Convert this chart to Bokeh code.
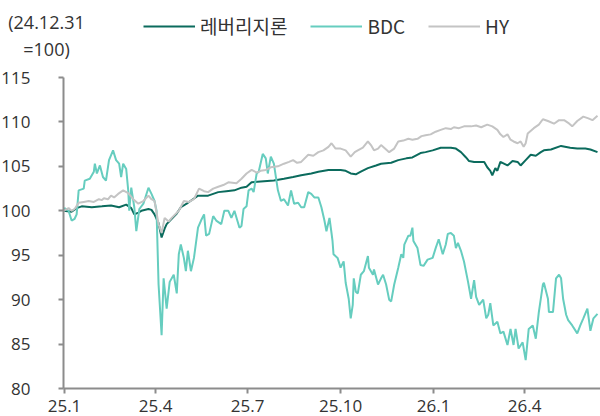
import pandas as pd
from bokeh.plotting import figure
from bokeh.models import FixedTicker, Legend, LegendItem, Label, Range1d
from bokeh.embed import file_html
from bokeh.resources import INLINE

base_date = "2024-12-31"

# days since 2024-12-31 and index values (24.12.31 = 100)
loan_days = [0, 8, 13, 18, 28, 38, 47, 55, 62, 67, 70, 74, 77, 84, 87, 90, 94, 97, 100, 102,
             107, 112, 116, 123, 128, 133, 143, 153, 161, 169, 176, 181, 186, 195, 208, 218, 227, 235, 245, 252,
             262, 269, 274, 279, 284, 289, 294, 301, 309, 314, 324, 331, 339, 345, 353, 358, 365, 373, 383, 388,
             393, 398, 401, 406, 416, 419, 422, 424, 427, 429, 432, 439, 444, 449, 452, 457, 462, 467, 472, 475,
             482, 492, 501, 508, 516, 521, 528]
loan_vals = [100.0, 99.9, 100.3, 100.5, 100.4, 100.5, 100.6, 100.4, 100.7, 100.3, 99.6, 99.8, 100.0, 100.2, 100.1, 99.6, 98.6, 97.0, 98.0, 98.5,
             99.1, 99.7, 100.4, 100.9, 101.3, 101.7, 101.7, 102.1, 102.2, 102.3, 102.6, 102.7, 103.2, 103.3, 103.4, 103.6, 103.8, 104.0, 104.2, 104.4,
             104.6, 104.6, 104.6, 104.5, 104.2, 104.1, 104.4, 104.8, 105.1, 105.3, 105.4, 105.7, 105.9, 106.0, 106.5, 106.6, 106.8, 107.1, 107.1, 107.0,
             106.6, 106.0, 105.6, 105.5, 105.5, 104.9, 104.5, 104.0, 104.8, 104.5, 105.5, 105.1, 105.6, 105.5, 105.1, 105.7, 106.3, 106.2, 106.6, 106.8,
             106.9, 107.3, 107.1, 107.0, 107.0, 106.9, 106.6]

bdc_days = [0, 1, 5, 8, 11, 13, 15, 20, 21, 26, 30, 31, 33, 36, 39, 42, 45, 49, 52, 55,
            57, 59, 62, 64, 65, 67, 70, 72, 75, 79, 84, 87, 90, 92, 94, 97, 99, 102, 105, 109,
            112, 114, 116, 119, 121, 123, 126, 129, 133, 136, 139, 141, 144, 148, 151, 156, 159, 163, 166, 169,
            174, 176, 178, 181, 183, 186, 188, 191, 193, 197, 200, 202, 205, 208, 212, 215, 218, 222, 225, 228,
            232, 235, 238, 242, 245, 248, 252, 255, 258, 260, 263, 265, 266, 267, 271, 274, 277, 279, 282, 284,
            286, 287, 289, 291, 294, 297, 301, 302, 306, 307, 311, 314, 316, 319, 322, 324, 327, 331, 334, 336,
            337, 341, 343, 345, 346, 350, 353, 356, 360, 365, 368, 371, 375, 378, 380, 383, 386, 388, 390, 393,
            396, 400, 403, 406, 408, 411, 415, 418, 420, 422, 425, 429, 432, 435, 439, 442, 445, 447, 450, 454,
            457, 460, 464, 467, 470, 474, 475, 479, 480, 484, 487, 490, 492, 494, 497, 499, 503, 508, 511, 514,
            518, 521, 524, 528]
bdc_vals = [100.0, 100.3, 100.0, 98.9, 99.1, 99.6, 102.3, 102.5, 103.4, 103.6, 104.4, 105.3, 104.2, 105.1, 103.8, 103.4, 105.7, 106.8, 105.7, 105.3,
            103.8, 105.3, 104.7, 102.3, 100.0, 102.6, 100.4, 97.7, 100.2, 100.8, 102.6, 101.9, 101.1, 100.0, 91.7, 86.0, 92.4, 89.0, 92.0, 92.8,
            90.7, 95.1, 96.2, 94.7, 93.2, 95.5, 93.2, 94.7, 98.1, 98.9, 99.6, 97.2, 97.4, 99.4, 98.9, 98.5, 100.0, 100.0, 99.2, 100.0,
            98.1, 98.3, 100.2, 100.5, 102.3, 102.5, 102.1, 104.2, 104.4, 106.4, 105.9, 104.2, 106.1, 105.3, 102.3, 101.1, 101.3, 100.6, 102.3, 100.8,
            100.9, 100.4, 100.4, 102.1, 101.9, 101.5, 101.5, 100.4, 98.9, 97.7, 99.2, 97.5, 96.6, 95.1, 94.7, 93.6, 94.3, 91.9, 90.1, 87.9,
            89.4, 92.4, 90.9, 90.7, 92.8, 93.2, 94.9, 93.6, 92.8, 93.4, 91.7, 92.4, 92.8, 91.7, 90.0, 89.8, 91.7, 93.6, 95.1, 94.7,
            96.2, 97.2, 97.2, 98.1, 96.6, 95.8, 93.9, 93.8, 94.5, 94.7, 95.8, 96.8, 95.1, 96.2, 97.4, 97.5, 97.2, 95.8, 96.4, 95.5,
            94.3, 92.0, 90.1, 92.2, 90.3, 89.4, 90.0, 87.9, 88.3, 89.6, 87.1, 87.5, 86.2, 86.4, 84.9, 86.7, 84.9, 86.7, 84.5, 85.2,
            83.2, 86.7, 87.1, 85.6, 88.6, 91.7, 91.9, 90.1, 88.6, 88.6, 92.4, 92.8, 92.4, 90.1, 88.3, 87.7, 87.1, 86.2, 87.1, 87.9,
            89.0, 86.5, 87.9, 88.4]

hy_days = [0, 5, 8, 11, 15, 20, 25, 30, 35, 38, 40, 44, 47, 50, 54, 59, 64, 69, 74, 79,
           84, 87, 90, 94, 97, 100, 104, 107, 114, 119, 124, 129, 134, 139, 143, 148, 153, 158, 163, 171,
           176, 181, 186, 191, 195, 200, 205, 212, 218, 223, 227, 231, 235, 242, 247, 252, 257, 262, 265, 269,
           274, 279, 284, 288, 291, 296, 301, 304, 307, 311, 314, 319, 322, 327, 331, 336, 341, 345, 350, 354,
           358, 363, 368, 373, 378, 383, 386, 391, 396, 403, 408, 413, 419, 424, 429, 432, 435, 439, 442, 445,
           449, 452, 455, 457, 459, 465, 470, 474, 479, 485, 490, 495, 499, 503, 508, 514, 519, 523, 528]
hy_vals = [100.0, 100.3, 100.0, 100.2, 100.9, 101.0, 101.1, 101.0, 101.3, 101.2, 101.4, 101.3, 101.7, 101.5, 101.9, 102.3, 102.0, 101.3, 100.8, 101.1,
           101.7, 101.3, 101.1, 98.5, 97.5, 99.2, 98.8, 99.2, 100.0, 101.1, 101.0, 101.3, 102.5, 102.2, 102.1, 102.5, 102.7, 102.9, 103.2, 103.1,
           103.6, 104.2, 104.6, 104.3, 104.5, 104.6, 104.9, 105.0, 105.3, 105.5, 105.7, 105.4, 105.5, 106.3, 106.2, 106.6, 106.8, 107.2, 107.6, 107.0,
           107.0, 106.8, 106.1, 106.6, 106.8, 107.1, 107.8, 107.4, 106.8, 107.0, 107.4, 106.9, 106.6, 107.0, 107.8, 107.9, 108.1, 108.0, 108.1, 108.4,
           108.5, 108.6, 108.9, 109.1, 109.3, 109.2, 109.4, 109.3, 109.5, 109.5, 109.6, 109.4, 109.7, 109.5, 109.1, 108.6, 108.3, 108.6, 108.0, 107.8,
           107.6, 107.8, 107.2, 107.6, 108.7, 109.3, 109.7, 110.3, 110.1, 109.8, 110.2, 110.2, 109.9, 109.5, 110.1, 110.6, 110.4, 110.2, 110.7]

series_names = ["레버리지론", "BDC", "HY"]
series_colors = ["#0B6B5D", "#66CDBF", "#C4C4C4"]

tick_dates = ["2025-01-01", "2025-04-01", "2025-07-01", "2025-10-01", "2026-01-01", "2026-04-01"]
tick_labels = ["25.1", "25.4", "25.7", "25.10", "26.1", "26.4"]
y_ticks = [80, 85, 90, 95, 100, 105, 110, 115]
y_title = "(24.12.31\n=100)"

base = pd.Timestamp(base_date)
end_day = max(hy_days) + 1


def to_dates(days):
    return [base + pd.Timedelta(days=d) for d in days]


# layout: the frame fills the canvas; axes are pinned at the data origin
W, H = 600, 416
ax_left_px, ax_right_px, ax_bottom_px, ax_top_px = 63, 598, 388, 77
px_per_day = (ax_right_px - ax_left_px) / end_day
px_per_unit = (ax_bottom_px - ax_top_px) / (max(y_ticks) - min(y_ticks))
x_start = base - pd.Timedelta(days=ax_left_px / px_per_day)
x_end = base + pd.Timedelta(days=(W - ax_left_px) / px_per_day)
y_end = max(y_ticks) + ax_top_px / px_per_unit
y_start = min(y_ticks) - (H - ax_bottom_px) / px_per_unit

p = figure(width=W, height=H, x_axis_type="datetime", output_backend="svg",
           toolbar_location=None,
           x_range=Range1d(x_start, x_end),
           y_range=Range1d(y_start, y_end),
           min_border=0)
p.outline_line_color = None
p.xgrid.grid_line_color = None
p.ygrid.grid_line_color = None

tick_ms = [pd.Timestamp(t).timestamp() * 1000 for t in tick_dates]
p.xaxis.ticker = FixedTicker(ticks=tick_ms)
p.xaxis.major_label_overrides = {ms: lab for ms, lab in zip(tick_ms, tick_labels)}
p.yaxis.ticker = FixedTicker(ticks=y_ticks)
p.xaxis.fixed_location = min(y_ticks)
p.yaxis.fixed_location = base.timestamp() * 1000
p.xaxis.bounds = (base, x_end)
p.yaxis.bounds = (min(y_ticks), max(y_ticks))

for ax in (p.xaxis[0], p.yaxis[0]):
    ax.axis_line_color = "#8C8C8C"
    ax.axis_line_width = 2
    ax.major_tick_line_color = "#8C8C8C"
    ax.major_tick_line_width = 2
    ax.major_tick_in = 0
    ax.major_tick_out = 5
    ax.minor_tick_line_color = None
    ax.major_label_text_font = "Open Sans"
    ax.major_label_text_font_size = "17px"
    ax.major_label_text_color = "#333333"
p.xaxis.major_label_standoff = 6
p.yaxis.major_label_standoff = 28

renderers = []
for days, vals, col in zip([loan_days, bdc_days, hy_days], [loan_vals, bdc_vals, hy_vals], series_colors):
    r = p.line(to_dates(days), vals, line_color=col, line_width=2)
    renderers.append(r)

legend = Legend(items=[LegendItem(label=n, renderers=[r]) for n, r in zip(series_names, renderers)],
                orientation="horizontal", location=(143, 377),
                glyph_width=52, glyph_height=20, label_standoff=5, spacing=23,
                padding=0, margin=0, border_line_color=None, background_fill_alpha=0,
                label_text_font="Noto Sans CJK KR", label_text_font_size="19px",
                label_text_color="#333333")
p.add_layout(legend)

p.add_layout(Label(x=46, y=407, x_units="screen", y_units="screen", text=y_title,
                   text_align="center", text_baseline="top", text_font="Open Sans",
                   text_font_size="18px", text_color="#333333", text_line_height=1.16))

open("out.html", "w").write(file_html(p, INLINE))
